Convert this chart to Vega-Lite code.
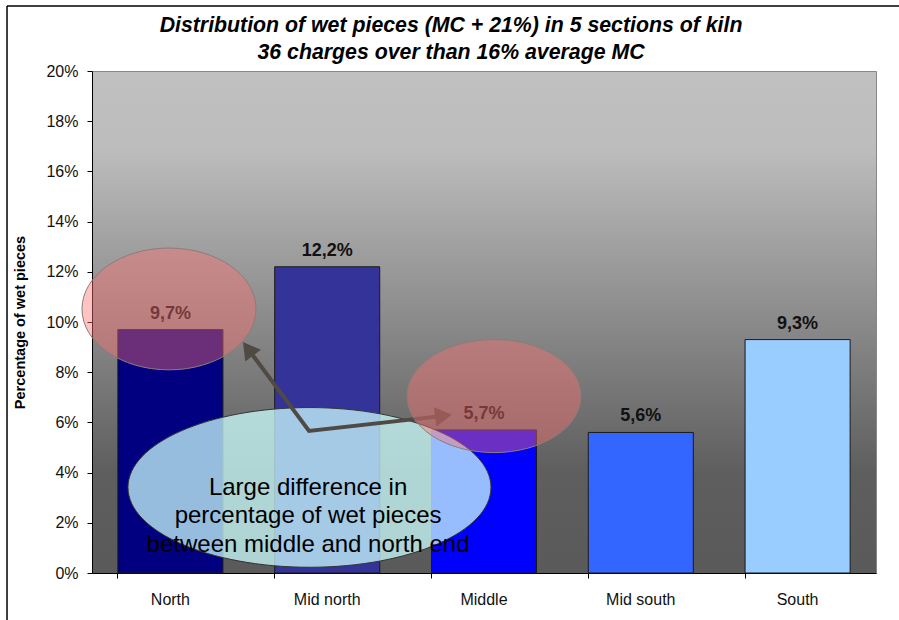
{
  "$schema": "https://vega.github.io/schema/vega-lite/v6.json",
  "width": 784,
  "height": 502,
  "autosize": {"type": "none"},
  "padding": {"left": 92, "top": 71, "right": 23, "bottom": 47},
  "background": "white",
  "config": {
    "font": "Liberation Sans",
    "locale": {
      "number": {"decimal": ",", "thousands": ".", "grouping": [3], "currency": ["", " €"]}
    },
    "view": {
      "fill": {
        "gradient": "linear",
        "x1": 0, "y1": 0, "x2": 0, "y2": 1,
        "stops": [
          {"offset": 0, "color": "#c0c0c0"},
          {"offset": 0.15, "color": "#bdbdbd"},
          {"offset": 0.8, "color": "#5e5e5e"},
          {"offset": 1, "color": "#5a5a5a"}
        ]
      },
      "stroke": "#888888",
      "strokeWidth": 1
    }
  },
  "title": {
    "text": [
      "Distribution of wet pieces (MC + 21%) in 5 sections of kiln",
      "36 charges over than 16% average MC"
    ],
    "font": "Liberation Sans",
    "fontSize": 21.3,
    "fontStyle": "italic",
    "fontWeight": "bold",
    "color": "#000000",
    "lineHeight": 27,
    "anchor": "middle",
    "frame": "bounds",
    "dx": -2,
    "offset": -58
  },
  "datasets": {
    "sections": [
      {"section": "North", "pct": 0.097},
      {"section": "Mid north", "pct": 0.122},
      {"section": "Middle", "pct": 0.057},
      {"section": "Mid south", "pct": 0.056},
      {"section": "South", "pct": 0.093}
    ],
    "spots": [
      {"spot": "north", "x": 0.491, "pct": 0.1052},
      {"spot": "middle", "x": 2.564, "pct": 0.0705},
      {"spot": "note", "x": 1.387, "pct": 0.0341}
    ],
    "note": [
      {"x": 1.378, "pct": 0.0339, "text": "Large difference in\npercentage of wet pieces\nbetween middle and north end"}
    ],
    "arrow": [
      {"step": 1, "x": 0.995, "pct": 0.0893},
      {"step": 2, "x": 1.384, "pct": 0.0566},
      {"step": 3, "x": 2.242, "pct": 0.0626}
    ],
    "heads": [
      {"head": "north", "x": 0.995, "pct": 0.0893},
      {"head": "middle", "x": 2.242, "pct": 0.0626}
    ],
    "frame": [
      {"x": -0.542, "x2": 5.147, "pct": 0.2259, "pct2": 0.2259},
      {"x": -0.542, "x2": -0.542, "pct": 0.2259, "pct2": -0.0187}
    ]
  },
  "encoding": {
    "y": {
      "field": "pct",
      "type": "quantitative",
      "scale": {"domain": [0, 0.2], "nice": false},
      "axis": {
        "title": "Percentage of wet pieces",
        "titleFontSize": 14.5,
        "titleFontWeight": "bold",
        "titleColor": "#000000",
        "titlePadding": 18,
        "values": [0, 0.02, 0.04, 0.06, 0.08, 0.1, 0.12, 0.14, 0.16, 0.18, 0.2],
        "format": ".0%",
        "labelFontSize": 16,
        "labelColor": "#111111",
        "labelPadding": 9,
        "tickSize": 5,
        "tickColor": "#000000",
        "domainColor": "#000000",
        "grid": false
      }
    }
  },
  "layer": [
    {
      "data": {"name": "sections"},
      "encoding": {
        "x": {
          "field": "section",
          "type": "nominal",
          "sort": null,
          "scale": {"paddingInner": 0.33, "paddingOuter": 0.165},
          "axis": {
            "title": null,
            "labelAngle": 0,
            "labelFontSize": 16,
            "labelColor": "#111111",
            "labelPadding": 13,
            "tickSize": 5,
            "tickColor": "#000000",
            "domainColor": "#000000",
            "bandPosition": 0,
            "grid": false
          }
        }
      },
      "layer": [
        {
          "mark": {"type": "bar", "stroke": "#1a1a1a", "strokeWidth": 1},
          "encoding": {
            "color": {
              "field": "section",
              "type": "nominal",
              "sort": null,
              "scale": {
                "domain": ["North", "Mid north", "Middle", "Mid south", "South"],
                "range": ["#000080", "#333399", "#0000ff", "#3366ff", "#99ccff"]
              },
              "legend": null
            }
          }
        },
        {
          "mark": {
            "type": "text",
            "baseline": "alphabetic",
            "dy": -11,
            "fontSize": 18,
            "fontWeight": "bold",
            "color": "#111111"
          },
          "encoding": {
            "text": {"field": "pct", "type": "quantitative", "format": ".1%"}
          }
        }
      ]
    },
    {
      "encoding": {
        "x": {
          "field": "x",
          "type": "quantitative",
          "scale": {"domain": [0, 5], "nice": false, "zero": false},
          "axis": null
        }
      },
      "layer": [
        {
          "data": {"name": "spots"},
          "transform": [{"filter": "datum.spot === 'note'"}],
          "mark": {
            "type": "point",
            "shape": "M-1,0A1,0.44,0,1,1,1,0A1,0.44,0,1,1,-1,0Z",
            "size": 131769,
            "filled": true,
            "fill": "#ccffff",
            "fillOpacity": 0.74,
            "stroke": "#333333",
            "strokeWidth": 1,
            "strokeOpacity": 1
          }
        },
        {
          "data": {"name": "note"},
          "mark": {
            "type": "text",
            "fontSize": 24,
            "lineHeight": 28.3,
            "lineBreak": "\n",
            "align": "center",
            "baseline": "middle",
            "color": "#000000"
          },
          "encoding": {"text": {"field": "text"}}
        },
        {
          "data": {"name": "arrow"},
          "mark": {"type": "line", "stroke": "#4f4a44", "strokeWidth": 4, "strokeJoin": "miter"},
          "encoding": {"order": {"field": "step"}}
        },
        {
          "data": {"name": "heads"},
          "transform": [{"filter": "datum.head === 'north'"}],
          "mark": {
            "type": "point",
            "shape": "triangle-up",
            "size": 380,
            "angle": -36.6,
            "filled": true,
            "fill": "#4f4a44",
            "fillOpacity": 1,
            "strokeWidth": 0
          }
        },
        {
          "data": {"name": "heads"},
          "transform": [{"filter": "datum.head === 'middle'"}],
          "mark": {
            "type": "point",
            "shape": "triangle-up",
            "size": 380,
            "angle": 83,
            "filled": true,
            "fill": "#4f4a44",
            "fillOpacity": 1,
            "strokeWidth": 0
          }
        },
        {
          "data": {"name": "spots"},
          "transform": [{"filter": "datum.spot === 'north'"}],
          "mark": {
            "type": "point",
            "shape": "M-1,0A1,0.7,0,1,1,1,0A1,0.7,0,1,1,-1,0Z",
            "size": 30276,
            "filled": true,
            "fill": "#ff7070",
            "fillOpacity": 0.42,
            "stroke": "#8c7c78",
            "strokeWidth": 1,
            "strokeOpacity": 1
          }
        },
        {
          "data": {"name": "spots"},
          "transform": [{"filter": "datum.spot === 'middle'"}],
          "mark": {
            "type": "point",
            "shape": "M-1,0A1,0.65,0,1,1,1,0A1,0.65,0,1,1,-1,0Z",
            "size": 30276,
            "filled": true,
            "fill": "#ff7070",
            "fillOpacity": 0.42,
            "stroke": "#8c7c78",
            "strokeWidth": 1,
            "strokeOpacity": 1
          }
        },
        {
          "data": {"name": "frame"},
          "mark": {"type": "rule", "stroke": "#000000", "strokeWidth": 1.5},
          "encoding": {
            "x2": {"field": "x2"},
            "y2": {"field": "pct2"}
          }
        }
      ]
    }
  ],
  "resolve": {"scale": {"x": "independent"}}
}
